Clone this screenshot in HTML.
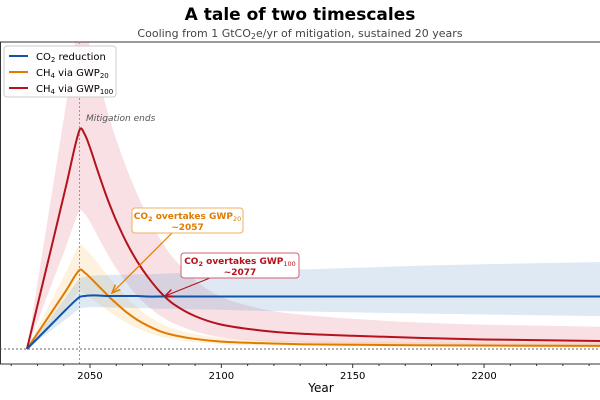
<!DOCTYPE html>
<html><head><meta charset="utf-8"><style>
html,body{margin:0;padding:0;background:#fff;width:600px;height:400px;overflow:hidden;font-family:"DejaVu Sans","Liberation Sans",sans-serif}
</style></head><body>
<svg id="chart" width="600" height="400" xmlns="http://www.w3.org/2000/svg" font-family="DejaVu Sans, Liberation Sans, sans-serif">
<defs><clipPath id="pc"><rect x="0" y="42" width="600" height="322"/></clipPath>
<marker id="ao" markerWidth="8" markerHeight="8" refX="7" refY="4" orient="auto"><path d="M0,1 L7,4 L0,7" fill="none" stroke="#e07b00" stroke-width="1.2"/></marker>
<marker id="ar" markerWidth="8" markerHeight="8" refX="7" refY="4" orient="auto"><path d="M0,1 L7,4 L0,7" fill="none" stroke="#b5121b" stroke-width="1.2"/></marker>
</defs>
<text x="300" y="20" text-anchor="middle" font-size="17" font-weight="bold">A tale of two timescales</text>
<text x="300" y="37" text-anchor="middle" font-size="11" fill="#444">Cooling from 1 GtCO<tspan font-size="8" dy="2">2</tspan><tspan dy="-2">e/yr of mitigation, sustained 20 years</tspan></text>
<line x1="0" y1="42" x2="600" y2="42" stroke="#333" stroke-width="1"/>
<line x1="0.5" y1="42" x2="0.5" y2="364" stroke="#333" stroke-width="1"/>
<g id="plot" clip-path="url(#pc)"></g>
<g id="axis"></g>
<text x="321" y="392" text-anchor="middle" font-size="12">Year</text>
<g>
<line x1="172" y1="233" x2="112" y2="293" stroke="#e07b00" stroke-width="1.2" marker-end="url(#ao)"/>
<rect x="132" y="208" width="111" height="25" rx="3" fill="#fff" stroke="#f0b060" stroke-width="1"/>
<text x="187.5" y="219" text-anchor="middle" font-size="9" font-weight="bold" fill="#e07b00">CO<tspan font-size="6.5" dy="2">2</tspan><tspan dy="-2"> overtakes GWP</tspan><tspan font-size="6.5" dy="2" font-weight="normal">20</tspan></text>
<text x="187.5" y="230" text-anchor="middle" font-size="9" font-weight="bold" fill="#e07b00">~2057</text>
</g>
<g>
<line x1="210" y1="278" x2="165" y2="296" stroke="#b5121b" stroke-width="1.2" marker-end="url(#ar)"/>
<rect x="181" y="253" width="118" height="25" rx="3" fill="#fff" stroke="#d06070" stroke-width="1"/>
<text x="240" y="264" text-anchor="middle" font-size="9" font-weight="bold" fill="#b5121b">CO<tspan font-size="6.5" dy="2">2</tspan><tspan dy="-2"> overtakes GWP</tspan><tspan font-size="6.5" dy="2" font-weight="normal">100</tspan></text>
<text x="240" y="275" text-anchor="middle" font-size="9" font-weight="bold" fill="#b5121b">~2077</text>
</g>
<text x="86" y="121" font-size="9" font-style="italic" fill="#555">Mitigation ends</text>
<g>
<rect x="4" y="46" width="112" height="51" rx="3" fill="#fff" fill-opacity="0.9" stroke="#ccc"/>
<line x1="9" y1="56" x2="28" y2="56" stroke="#1155aa" stroke-width="2"/>
<text x="36" y="60" font-size="10">CO<tspan font-size="7" dy="2">2</tspan><tspan dy="-2"> reduction</tspan></text>
<line x1="9" y1="72" x2="28" y2="72" stroke="#e07b00" stroke-width="2"/>
<text x="36" y="76" font-size="10">CH<tspan font-size="7" dy="2">4</tspan><tspan dy="-2"> via GWP</tspan><tspan font-size="7" dy="2">20</tspan></text>
<line x1="9" y1="88" x2="28" y2="88" stroke="#b5121b" stroke-width="2"/>
<text x="36" y="92" font-size="10">CH<tspan font-size="7" dy="2">4</tspan><tspan dy="-2"> via GWP</tspan><tspan font-size="7" dy="2">100</tspan></text>
</g>
</svg>
<script>
const years = [2026,2031,2036,2041,2046,2048,2050,2053,2056,2058,2060,2064,2068,2072,2077,2082,2090,2100,2115,2130,2150,2175,2200,2245];
const co2 = [0,0.25,0.5,0.75,0.98,1.0,1.01,1.01,1.0,1.0,1.0,1.0,1.0,0.99,0.99,0.99,0.99,0.99,0.99,0.99,0.99,0.99,0.99,0.99];
const co2Lo = [0,0.19,0.38,0.57,0.76,0.78,0.79,0.79,0.79,0.78,0.78,0.78,0.77,0.77,0.76,0.76,0.75,0.74,0.72,0.71,0.69,0.67,0.65,0.62];
const co2Hi = [0,0.33,0.66,0.99,1.32,1.36,1.38,1.39,1.39,1.4,1.4,1.4,1.41,1.41,1.42,1.43,1.44,1.46,1.48,1.5,1.53,1.57,1.6,1.64];
const g20 = [0,0.37,0.74,1.11,1.49,1.44,1.35,1.2,1.05,0.95,0.86,0.69,0.55,0.44,0.33,0.26,0.19,0.14,0.11,0.09,0.08,0.07,0.065,0.06];
const g20Lo = [0,0.27,0.54,0.8,1.08,1.04,0.97,0.86,0.75,0.68,0.61,0.49,0.39,0.31,0.23,0.18,0.13,0.09,0.07,0.055,0.045,0.04,0.035,0.03];
const g20Hi = [0,0.49,0.98,1.47,1.96,1.9,1.8,1.62,1.43,1.31,1.19,0.97,0.78,0.63,0.48,0.38,0.28,0.21,0.17,0.15,0.14,0.13,0.12,0.12];
const g100 = [0,1.03,2.06,3.1,4.13,4.05,3.8,3.35,2.92,2.66,2.42,2.0,1.65,1.36,1.06,0.84,0.62,0.46,0.35,0.29,0.25,0.21,0.18,0.15];
const g100Lo = [0,0.65,1.3,1.95,2.6,2.55,2.4,2.12,1.85,1.68,1.52,1.24,1.0,0.81,0.62,0.48,0.33,0.22,0.15,0.12,0.1,0.09,0.08,0.07];
const g100Hi = [0,1.55,3.1,4.65,6.2,6.05,5.7,5.15,4.6,4.25,3.95,3.4,2.92,2.5,2.05,1.7,1.3,0.98,0.76,0.65,0.57,0.5,0.46,0.42];
const xTicks = [2050,2100,2150,2200];
const mitigationEnd = 2046;
const NS="http://www.w3.org/2000/svg";
function xs(y){return 90+(y-2050)*2.627;}
function ys(v){return 349-v*53;}
const plot=document.getElementById('plot'), axis=document.getElementById('axis');
function smooth(pts){
  let d='M'+pts[0][0]+','+pts[0][1];
  for(let i=0;i<pts.length-1;i++){
    const p0=pts[Math.max(0,i-1)],p1=pts[i],p2=pts[i+1],p3=pts[Math.min(pts.length-1,i+2)];
    const dx=p2[0]-p1[0];
    const s1=(p2[1]-p0[1])/((p2[0]-p0[0])||1), s2=(p3[1]-p1[1])/((p3[0]-p1[0])||1);
    const c1=[p1[0]+dx/3,p1[1]+s1*dx/3];
    const c2=[p2[0]-dx/3,p2[1]-s2*dx/3];
    d+='C'+c1[0]+','+c1[1]+' '+c2[0]+','+c2[1]+' '+p2[0]+','+p2[1];
  }
  return d;
}
function band(lo,hi,fill,op,name){
  const top=years.map((y,i)=>[xs(y),ys(hi[i])]);
  const bot=years.map((y,i)=>[xs(y),ys(lo[i])]).reverse();
  const d=smooth(top)+'L'+smooth(bot).slice(1)+'Z';
  const p=document.createElementNS(NS,'path');p.setAttribute('d',d);p.setAttribute('fill',fill);p.setAttribute('fill-opacity',op);
  
  
  plot.appendChild(p);
}
function line(v,col,name){
  const p=document.createElementNS(NS,'path');
  p.setAttribute('d',smooth(years.map((y,i)=>[xs(y),ys(v[i])])));
  p.setAttribute('fill','none');p.setAttribute('stroke',col);p.setAttribute('stroke-width','2');p.setAttribute('stroke-linejoin','round');
  
  
  plot.appendChild(p);
}
band(g100Lo,g100Hi,'#c8102e',0.13,'gwp100-band');
band(g20Lo,g20Hi,'#f5a623',0.15,'gwp20-band');
band(co2Lo,co2Hi,'#6a9acb',0.22,'co2-band');
const z=document.createElementNS(NS,'line');
z.setAttribute('x1',0);z.setAttribute('x2',600);z.setAttribute('y1',ys(0));z.setAttribute('y2',ys(0));
z.setAttribute('stroke','#666');z.setAttribute('stroke-dasharray','2,2');


plot.appendChild(z);
const m=document.createElementNS(NS,'line');
m.setAttribute('x1',xs(mitigationEnd));m.setAttribute('x2',xs(mitigationEnd));m.setAttribute('y1',42);m.setAttribute('y2',364);
m.setAttribute('stroke','#999');m.setAttribute('stroke-dasharray','2,2');


plot.appendChild(m);
line(g20,'#e07b00','gwp20-line');
line(g100,'#b5121b','gwp100-line');
line(co2,'#1155aa','co2-line');
const ax=document.createElementNS(NS,'line');
ax.setAttribute('x1',0);ax.setAttribute('x2',600);ax.setAttribute('y1',364);ax.setAttribute('y2',364);ax.setAttribute('stroke','#333');


axis.appendChild(ax);
for(let y=2020;y<=2240;y+=10){
  const t=document.createElementNS(NS,'line');const maj=xTicks.includes(y);
  t.setAttribute('x1',xs(y));t.setAttribute('x2',xs(y));t.setAttribute('y1',364);t.setAttribute('y2',364+(maj?4:2));t.setAttribute('stroke','#333');
  
  
  axis.appendChild(t);
}
xTicks.forEach(y=>{
  const t=document.createElementNS(NS,'text');t.setAttribute('x',xs(y));t.setAttribute('y',379);t.setAttribute('text-anchor','middle');t.setAttribute('font-size','10');
  t.textContent=y;
  
  
  axis.appendChild(t);
});
</script>
</body></html>
